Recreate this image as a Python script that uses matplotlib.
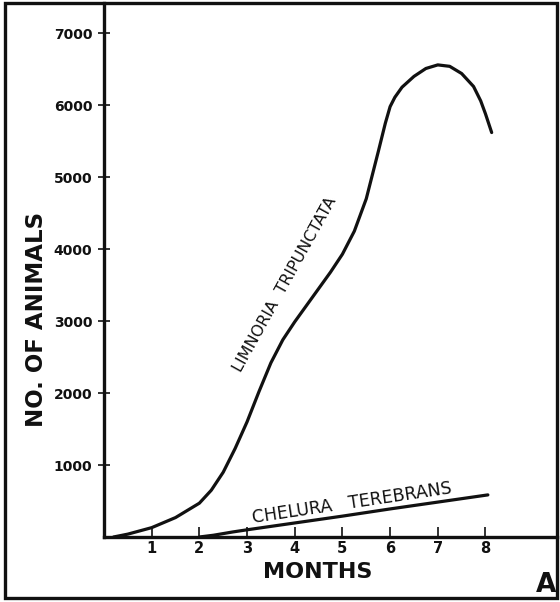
import matplotlib
matplotlib.use("Agg")
import matplotlib.pyplot as plt
from matplotlib.patches import Rectangle

# values (months, number of animals)
limnoria_months = [0.2, 0.5, 1.0, 1.5, 2.0, 2.25, 2.5, 2.75, 3.0, 3.25, 3.5,
                   3.75, 4.0, 4.25, 4.5, 4.75, 5.0, 5.25, 5.5, 5.75, 5.9,
                   6.0, 6.1, 6.25, 6.5, 6.75, 7.0, 7.25, 7.5, 7.75, 7.9,
                   8.0, 8.13]
limnoria_counts = [0, 40, 130, 270, 470, 650, 900, 1230, 1600, 2020, 2420,
                   2740, 2990, 3220, 3450, 3680, 3930, 4250, 4700, 5350, 5750,
                   5980, 6110, 6250, 6400, 6510, 6560, 6540, 6440, 6260, 6060,
                   5880, 5620]

chelura_months = [2.0, 2.3, 2.7, 3.0, 4.0, 5.0, 6.0, 7.0, 8.05]
chelura_counts = [0, 25, 70, 100, 195, 290, 390, 485, 585]

month_ticks = [1, 2, 3, 4, 5, 6, 7, 8]
count_ticks = [1000, 2000, 3000, 4000, 5000, 6000, 7000]

ink = "#111111"
font = "DejaVu Sans"

fig = plt.figure(figsize=(5.6, 6.02), dpi=100)
fig.patch.set_facecolor("white")

ax = fig.add_axes([104 / 560, 65 / 602, 453 / 560, 534 / 602])
ax.set_xlim(0, 9.5)
ax.set_ylim(0, 7420)

ax.plot(limnoria_months, limnoria_counts, color=ink, lw=2.3,
        solid_capstyle="round", solid_joinstyle="round")
ax.plot(chelura_months, chelura_counts, color=ink, lw=2.3,
        solid_capstyle="round")

for side in ["top", "right"]:
    ax.spines[side].set_visible(False)
for side in ["left", "bottom"]:
    ax.spines[side].set_linewidth(2.4)
    ax.spines[side].set_color(ink)

ax.set_xticks(month_ticks)
ax.set_xticklabels([str(m) for m in month_ticks])
ax.set_yticks(count_ticks)
ax.set_yticklabels([str(c) for c in count_ticks])
ax.tick_params(axis="x", direction="in", length=7, width=1.2, pad=3,
               labelsize=10.5, colors=ink)
ax.tick_params(axis="y", direction="inout", length=9, width=1.2, pad=4,
               labelsize=10, colors=ink)
for lab in ax.get_xticklabels() + ax.get_yticklabels():
    lab.set_fontweight("bold")
    lab.set_family(font)

ax.text(3.79, 3514, "LIMNORIA  TRIPUNCTATA", rotation=61, rotation_mode="anchor",
        ha="center", va="center", fontsize=11.5, color=ink, family=font)
ax.text(5.2, 470, "CHELURA   TEREBRANS", rotation=8.5, rotation_mode="anchor",
        ha="center", va="center", fontsize=12.5, color=ink, family=font)

fig.text(318 / 560, 1 - 572 / 602, "MONTHS", ha="center", va="center",
         fontsize=16, fontweight="bold", color=ink, family=font)
fig.text(37 / 560, 1 - 319 / 602, "NO. OF ANIMALS", rotation=90, ha="center",
         va="center", fontsize=16.5, fontweight="bold", color=ink, family=font)
fig.text(546 / 560, 1 - 585 / 602, "A", ha="center", va="center",
         fontsize=19, fontweight="bold", color=ink, family=font)

# outer frame around the whole plate
fig.patches.append(Rectangle((5 / 560, 4 / 602), 552 / 560, 595 / 602,
                             transform=fig.transFigure, fill=False,
                             edgecolor=ink, linewidth=2.4))

fig.savefig("out.png", dpi=100, facecolor="white")
